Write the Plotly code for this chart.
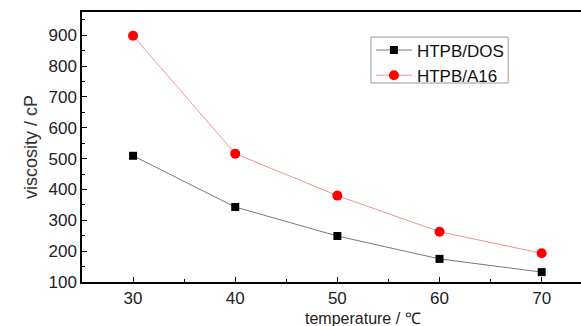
import plotly.graph_objects as go

temperature = [30, 40, 50, 60, 70]
htpb_dos = [509, 343, 249, 175, 132]
htpb_a16 = [898, 516, 380, 263, 193]

x_ticks = [30, 40, 50, 60, 70]
y_ticks = [100, 200, 300, 400, 500, 600, 700, 800, 900]

fig = go.Figure()
fig.add_trace(go.Scatter(
    x=temperature, y=htpb_dos, name="HTPB/DOS", mode="lines+markers",
    line=dict(color="#555555", width=0.8),
    marker=dict(symbol="square", size=8, color="black"),
))
fig.add_trace(go.Scatter(
    x=temperature, y=htpb_a16, name="HTPB/A16", mode="lines+markers",
    line=dict(color="#ee7777", width=0.8),
    marker=dict(symbol="circle", size=10, color="red"),
))

font = "Liberation Sans, Arial, sans-serif"
fig.update_layout(
    width=581, height=326,
    margin=dict(l=82, r=0, t=12, b=44),
    plot_bgcolor="white", paper_bgcolor="white",
    font=dict(family=font, size=17, color="#222222"),
    legend=dict(
        x=0.579, y=0.924, xanchor="left", yanchor="top",
        borderwidth=0, bgcolor="rgba(0,0,0,0)",
        font=dict(size=17, color="#111111"),
        itemwidth=36, tracegroupgap=0,
    ),
    showlegend=True,
    shapes=[dict(
        type="rect", xref="paper", yref="paper",
        x0=0.579, x1=0.854, y0=0.737, y1=0.907,
        line=dict(color="#999999", width=1), fillcolor="rgba(0,0,0,0)",
        layer="below",
    )],
    annotations=[dict(
        text="temperature / ℃", xref="paper", yref="paper",
        x=0.563, y=-0.137, xanchor="center", yanchor="middle",
        showarrow=False, font=dict(size=16, color="#222222"),
    )],
)
fig.update_xaxes(
    range=[25, 73.85], tickvals=x_ticks, ticktext=[str(v) for v in x_ticks],
    showline=True, linecolor="black", linewidth=1.5, mirror=True,
    ticks="inside", ticklen=5, tickcolor="black", tickwidth=1.2,
    minor=dict(ticks="inside", ticklen=3, dtick=5, tick0=25, tickcolor="black"),
    showgrid=False, zeroline=False,
    tickfont=dict(size=17),
)
fig.update_yaxes(
    range=[100, 975], tickvals=y_ticks,
    showline=True, linecolor="black", linewidth=1.5, mirror=False,
    ticks="inside", ticklen=5, tickcolor="black", tickwidth=1.2,
    minor=dict(ticks="inside", ticklen=3, dtick=50, tick0=0, tickcolor="black"),
    showgrid=False, zeroline=False,
    title=dict(text="viscosity / cP", font=dict(size=18, color="#333333"), standoff=6),
    tickfont=dict(size=17),
)

fig.write_html("out.html")
